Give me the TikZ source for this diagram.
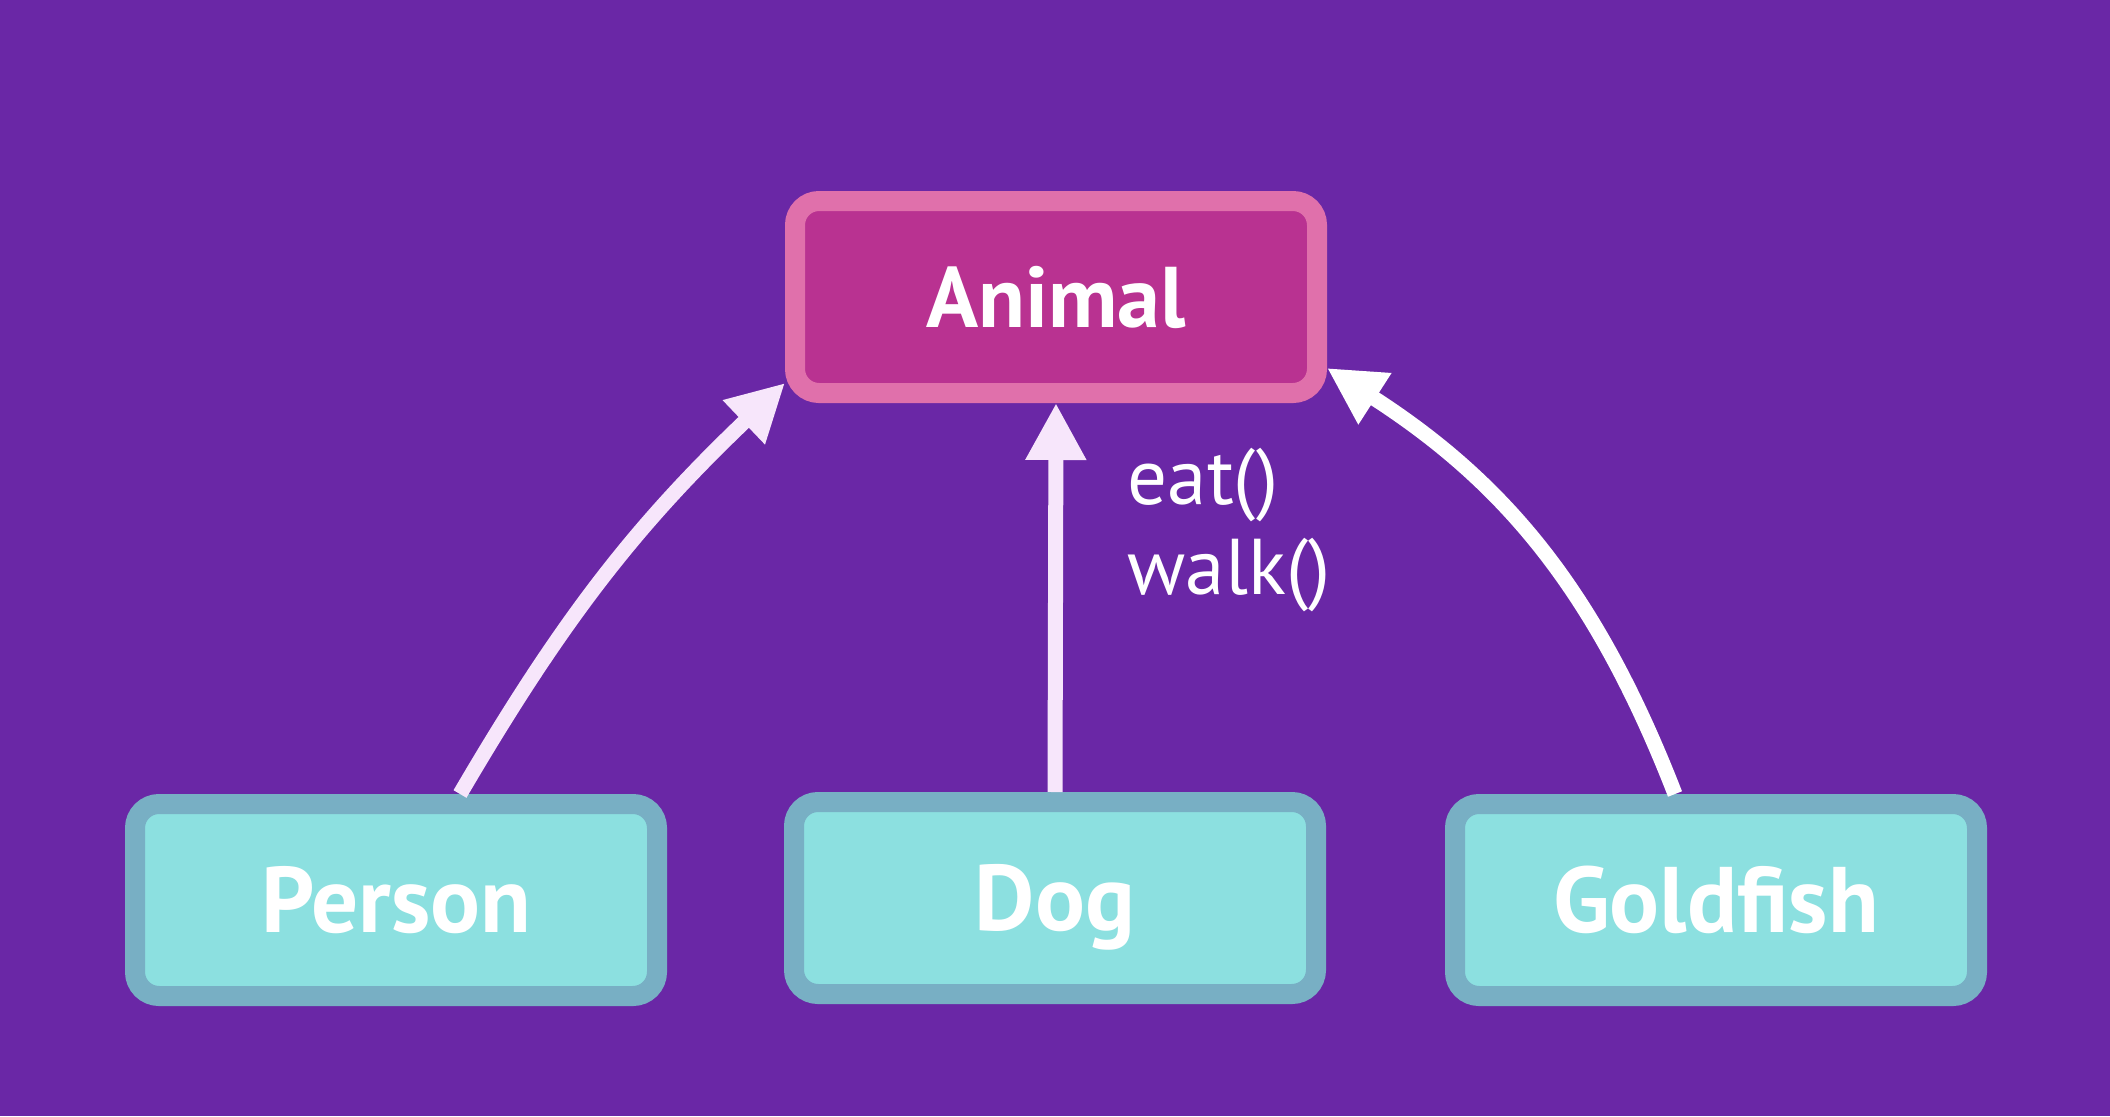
\documentclass[tikz,border=0pt]{standalone}
\usepackage{fontspec}
\setmainfont{PT Sans}
\usetikzlibrary{arrows.meta}
\definecolor{fundo}{HTML}{6A27A6}
\definecolor{rosa}{HTML}{B93291}
\definecolor{rosaborda}{HTML}{E070AB}
\definecolor{agua}{HTML}{8CE0E0}
\definecolor{aguaborda}{HTML}{78AFC4}
\definecolor{setarosa}{HTML}{F7E6FB}
\begin{document}
\begin{tikzpicture}[
    classe/.style={draw, line width=0.2cm, rounded corners=0.24cm, minimum width=5.22cm, minimum height=1.92cm, text=white, text depth=0pt},
    pai/.style={classe, fill=rosa, draw=rosaborda, text height=0.61cm, font=\bfseries\fontsize{24.5}{28}\selectfont},
    filho/.style={classe, fill=agua, draw=aguaborda, text height=0.65cm, font=\bfseries\fontsize{26.5}{30}\selectfont},
    seta/.style={line width=0.15cm, -{Triangle[length=0.57cm,width=0.57cm]}}]
     \fill[fundo] (0,0) rectangle (21.1,11.16);
     \useasboundingbox (0,0) rectangle (21.1,11.16);
     \node (animal) at (10.56,8.19) [pai] {Animal};
     \node (person) at (3.96,2.16) [filho] {Person};
     \node (dog) at (10.55,2.18) [filho] {Dog};
     \node (goldfish) at (17.16,2.16) [filho] {Goldfish};
     \draw[seta, setarosa] ([xshift=0.64cm]person.north) to[bend left=8] ([yshift=0.2cm]animal.south west);
     \draw[seta, setarosa] (dog.north) -- (animal.south);
     \draw[seta, white] ([xshift=-0.41cm]goldfish.north) to[bend right=18] ([yshift=0.35cm]animal.south east);
     \node (metodos) at (11.27,6.69) [anchor=north west, inner sep=0pt, align=left, text=white, font=\fontsize{22.5}{25.8}\selectfont] {eat()\\walk()};
 \end{tikzpicture}
\end{document}
